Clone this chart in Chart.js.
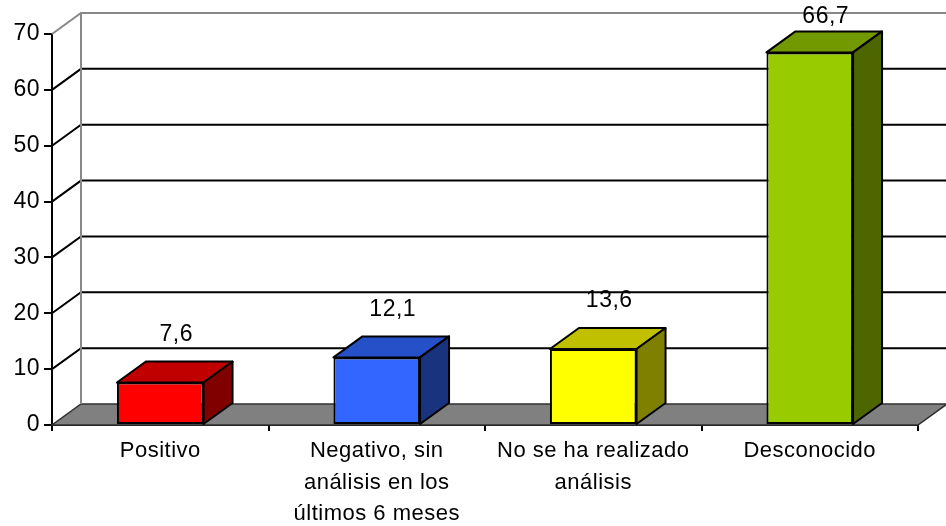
<!DOCTYPE html>
<html>
<head>
<meta charset="utf-8">
<style>
  html, body { margin: 0; padding: 0; background: #ffffff; }
  #wrap { width: 946px; height: 526px; position: relative; }
</style>
<script src="https://cdn.jsdelivr.net/npm/chart.js@4/dist/chart.umd.min.js"></script>
</head>
<body>
<div id="wrap"><canvas id="chart" width="946" height="526"></canvas></div>
<script>
// Categories (multi-line labels), values and axis ticks
const categories = [
  ['Positivo'],
  ['Negativo, sin', 'análisis en los', 'últimos 6 meses'],
  ['No se ha realizado', 'análisis'],
  ['Desconocido']
];
const values = [7.6, 12.1, 13.6, 66.7];
const yTicks = [0, 10, 20, 30, 40, 50, 60, 70];

// Face colours of each 3D column: front, top, side
const frontColors = ['#FF0000', '#3366FF', '#FFFF00', '#99CC00'];
const topColors   = ['#C00000', '#2650C8', '#C0C000', '#739900'];
const sideColors  = ['#800000', '#1A337F', '#808000', '#4D6600'];

// Depth of the 3D projection, in pixels
const DX = 29, DY = 21;
const FONT = "'Liberation Sans', Arial, sans-serif";

const fmt = v => v.toFixed(1).replace('.', ',');

// Draws walls, floor and the perspective parts of the columns
const threeD = {
  id: 'threeD',
  beforeDraw(chart) {
    chart.ctx.letterSpacing = '0.5px';
  },
  beforeDatasetsDraw(chart) {
    const { ctx, chartArea: a, scales: { y } } = chart;
    const y0 = y.getPixelForValue(0);
    ctx.save();
    // floor
    ctx.beginPath();
    ctx.moveTo(a.left, y0);
    ctx.lineTo(a.right, y0);
    ctx.lineTo(a.right + DX, y0 - DY);
    ctx.lineTo(a.left + DX, y0 - DY);
    ctx.closePath();
    ctx.fillStyle = '#808080';
    ctx.fill();
    ctx.lineWidth = 1.5;
    ctx.strokeStyle = '#303030';
    ctx.stroke();
    // grid lines on the back wall and the left wall
    yTicks.forEach(t => {
      if (t === 0) return;
      const py = y.getPixelForValue(t);
      const top = t === y.max;
      ctx.beginPath();
      ctx.moveTo(a.left, py);
      ctx.lineTo(a.left + DX, py - DY);
      ctx.lineTo(a.right + DX, py - DY);
      ctx.strokeStyle = top ? '#888888' : '#000000';
      ctx.lineWidth = 2;
      ctx.stroke();
    });
    // back wall left edge
    ctx.beginPath();
    ctx.moveTo(a.left + DX, y.getPixelForValue(y.max) - DY);
    ctx.lineTo(a.left + DX, y0 - DY);
    ctx.strokeStyle = '#888888';
    ctx.lineWidth = 2;
    ctx.stroke();
    ctx.restore();
  },
  afterDatasetsDraw(chart) {
    const { ctx } = chart;
    const meta = chart.getDatasetMeta(0);
    ctx.save();
    ctx.lineJoin = 'round';
    ctx.lineWidth = 2;
    ctx.strokeStyle = '#000000';
    meta.data.forEach((bar, i) => {
      const { x, y, base, width } = bar.getProps(['x', 'y', 'base', 'width'], true);
      const L = x - width / 2, R = x + width / 2;
      // top face
      ctx.beginPath();
      ctx.moveTo(L, y);
      ctx.lineTo(R, y);
      ctx.lineTo(R + DX, y - DY);
      ctx.lineTo(L + DX, y - DY);
      ctx.closePath();
      ctx.fillStyle = topColors[i];
      ctx.fill();
      ctx.stroke();
      // side face
      ctx.beginPath();
      ctx.moveTo(R, y);
      ctx.lineTo(R + DX, y - DY);
      ctx.lineTo(R + DX, base - DY);
      ctx.lineTo(R, base);
      ctx.closePath();
      ctx.fillStyle = sideColors[i];
      ctx.fill();
      ctx.stroke();
      // value label, kept inside the canvas
      ctx.fillStyle = '#000000';
      ctx.font = '23px ' + FONT;
      ctx.textAlign = 'center';
      ctx.textBaseline = 'middle';
      ctx.fillText(fmt(values[i]), x + 16, Math.max(y - 48, 17));
    });
    ctx.restore();
  }
};

new Chart(document.getElementById('chart'), {
  type: 'bar',
  data: {
    labels: categories,
    datasets: [{
      data: values,
      backgroundColor: frontColors,
      borderColor: '#000000',
      borderWidth: 2,
      borderSkipped: false,
      categoryPercentage: 1,
      barPercentage: 0.4
    }]
  },
  options: {
    responsive: false,
    animation: false,
    layout: { padding: { top: 34, right: 28, left: 0, bottom: 0 } },
    plugins: { legend: { display: false }, tooltip: { enabled: false } },
    scales: {
      y: {
        min: 0,
        max: 70,
        afterBuildTicks: s => { s.ticks = yTicks.map(v => ({ value: v })); },
        afterFit: s => { s.width = 52; },
        ticks: { color: '#000000', font: { size: 23, family: FONT }, padding: 4 },
        grid: { drawOnChartArea: false, tickLength: 8, color: '#000000', lineWidth: 2 },
        border: { display: true, color: '#000000', width: 2 }
      },
      x: {
        afterFit: s => { s.height = 101; },
        ticks: {
          color: '#000000',
          font: { size: 22, family: FONT, lineHeight: 1.44 },
          padding: 4,
          maxRotation: 0,
          autoSkip: false
        },
        grid: { offset: true, drawOnChartArea: false, tickLength: 6, color: '#000000', lineWidth: 2 },
        border: { display: true, color: '#000000', width: 2 }
      }
    }
  },
  plugins: [threeD]
});
</script>
</body>
</html>
